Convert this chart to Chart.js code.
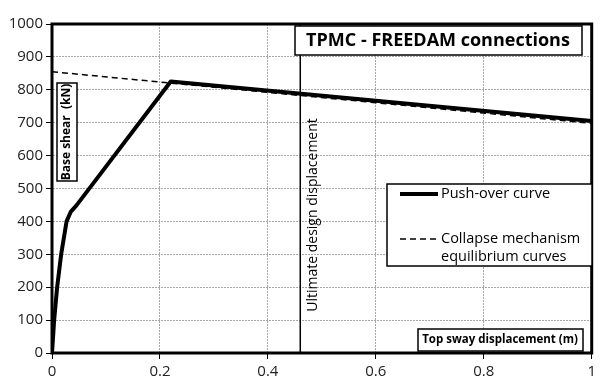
<!DOCTYPE html>
<html>
<head>
<meta charset="utf-8">
<script src="https://cdn.jsdelivr.net/npm/chart.js@4.4.0/dist/chart.umd.min.js"></script>
<style>
  html, body { margin: 0; padding: 0; background: #fff; }
  #wrap { width: 600px; height: 391px; }
</style>
</head>
<body>
<div id="wrap"><canvas id="chart"></canvas></div>
<script>
// push-over curve (top sway displacement in m, base shear in kN)
const pushX = [0, 0.002, 0.004, 0.0095, 0.017, 0.027, 0.035, 0.045, 0.22, 1];
const pushY = [0, 50, 100, 200, 300, 400, 430, 448, 825, 705];
// collapse mechanism equilibrium curve
const collapseX = [0, 1];
const collapseY = [855, 698];
// ultimate design displacement
const ultimateX = 0.46;
const yRange = [0, 1000];

const FONT = "'Open Sans', 'DejaVu Sans', sans-serif";

const toPts = (xs, ys) => xs.map((x, i) => ({ x: x, y: ys[i] }));

const boxText = (ctx, text, cx, cy, x0, y0, x1, y1, font, rot) => {
  ctx.save();
  ctx.fillStyle = '#fff';
  ctx.fillRect(x0, y0, x1 - x0, y1 - y0);
  ctx.lineWidth = 1.5;
  ctx.strokeStyle = '#000';
  ctx.strokeRect(x0, y0, x1 - x0, y1 - y0);
  ctx.translate(cx, cy);
  if (rot) ctx.rotate(-Math.PI / 2);
  ctx.font = font;
  ctx.fillStyle = '#000';
  ctx.textAlign = 'center';
  ctx.textBaseline = 'middle';
  ctx.fillText(text, 0, 0);
  ctx.restore();
};

const extras = {
  id: 'extras',
  afterDatasetsDraw(chart) {
    const ctx = chart.ctx;
    const a = chart.chartArea;
    const xs = chart.scales.x;

    // heavy frame round the plot
    ctx.save();
    ctx.lineWidth = 3;
    ctx.strokeStyle = '#000';
    ctx.strokeRect(a.left, a.top, a.right - a.left, a.bottom - a.top);
    ctx.restore();

    // label along the ultimate displacement line
    ctx.save();
    ctx.translate(xs.getPixelForValue(ultimateX) + 13, 215);
    ctx.rotate(-Math.PI / 2);
    ctx.font = '14px ' + FONT;
    ctx.fillStyle = '#000';
    ctx.textAlign = 'center';
    ctx.textBaseline = 'middle';
    ctx.fillText('Ultimate design displacement', 0, 0);
    ctx.restore();

    // title box
    boxText(ctx, 'TPMC - FREEDAM connections', 438, 41, 295, 26, 582, 55, 'bold 18px ' + FONT, false);
    // axis titles
    boxText(ctx, 'Base shear  (kN)', 67, 132, 57, 83, 77, 181, 'bold 12px ' + FONT, true);
    boxText(ctx, 'Top sway displacement (m)', 500, 340, 418, 329, 583, 351, 'bold 11.5px ' + FONT, false);

    // legend
    ctx.save();
    ctx.fillStyle = '#fff';
    ctx.fillRect(387, 184, 205, 82);
    ctx.lineWidth = 1.5;
    ctx.strokeStyle = '#000';
    ctx.strokeRect(387, 184, 205, 82);
    const ds = chart.data.datasets;
    const rows = [[ds[1], 194], [ds[0], 239]];
    rows.forEach(([d, y]) => {
      ctx.beginPath();
      ctx.lineWidth = d.borderWidth;
      ctx.setLineDash(d.borderDash || []);
      ctx.moveTo(400, y);
      ctx.lineTo(438, y);
      ctx.stroke();
    });
    ctx.setLineDash([]);
    ctx.font = '14.5px ' + FONT;
    ctx.fillStyle = '#000';
    ctx.textBaseline = 'middle';
    ctx.fillText(ds[1].label, 441, 194);
    ctx.fillText('Collapse mechanism', 441, 239);
    ctx.fillText('equilibrium curves', 441, 257);
    ctx.restore();
  }
};

new Chart(document.getElementById('chart'), {
  type: 'scatter',
  data: {
    datasets: [
      {
        label: 'Collapse mechanism equilibrium curves',
        data: toPts(collapseX, collapseY),
        showLine: true,
        borderColor: '#000',
        borderWidth: 1.5,
        borderDash: [6, 4],
        pointRadius: 0,
        fill: false
      },
      {
        label: 'Push-over curve',
        data: toPts(pushX, pushY),
        showLine: true,
        borderColor: '#000',
        borderWidth: 4,
        pointRadius: 0,
        borderJoinStyle: 'round',
        fill: false
      },
      {
        label: 'Ultimate design displacement',
        data: toPts([ultimateX, ultimateX], yRange),
        showLine: true,
        borderColor: '#000',
        borderWidth: 1.5,
        pointRadius: 0,
        fill: false
      }
    ]
  },
  options: {
    responsive: true,
    maintainAspectRatio: false,
    animation: false,
    layout: { padding: { top: 24, right: 8, left: 0, bottom: 0 } },
    plugins: {
      legend: { display: false },
      tooltip: { enabled: false }
    },
    scales: {
      x: {
        type: 'linear',
        min: 0,
        max: 1,
        afterFit: s => { s.height = 38; },
        ticks: {
          stepSize: 0.2,
          color: '#222',
          font: { family: FONT, size: 15 },
          padding: 4,
          callback: v => String(+v.toFixed(2))
        },
        grid: { color: '#a8a8a8', tickColor: '#000', tickLength: 6, lineWidth: 1 },
        border: { display: true, color: '#000', width: 1, dash: [2, 1] }
      },
      y: {
        min: yRange[0],
        max: yRange[1],
        afterFit: s => { s.width = 52; },
        ticks: {
          stepSize: 100,
          color: '#222',
          font: { family: FONT, size: 15 },
          padding: 3,
          callback: v => String(v)
        },
        grid: { color: '#a8a8a8', tickColor: '#000', tickLength: 6, lineWidth: 1 },
        border: { display: true, color: '#000', width: 1, dash: [2, 1] }
      }
    }
  },
  plugins: [extras]
});
</script>
</body>
</html>
